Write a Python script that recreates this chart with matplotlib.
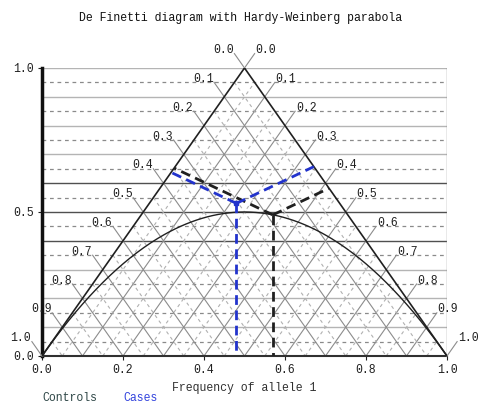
import numpy as np
import matplotlib
matplotlib.use("Agg")
import matplotlib.pyplot as plt

# ---- data ----
groups = ["Controls", "Cases"]
allele1_freq = [0.57, 0.48]      # frequency of allele 1
het_freq = [0.49, 0.53]          # heterozygote frequency
group_colors = ["#202020", "#2233cc"]
label_colors = ["#304848", "#3344dd"]
show_marker = [False, True]

x_ticks = [0.0, 0.2, 0.4, 0.6, 0.8, 1.0]
x_tick_labels = ["0.0", "0.2", "0.4", "0.6", "0.8", "1.0"]
y_ticks = [0.0, 0.5, 1.0]
y_tick_labels = ["0.0", "0.5", "1.0"]
side_labels = ["0.0", "0.1", "0.2", "0.3", "0.4", "0.5", "0.6", "0.7", "0.8", "0.9", "1.0"]

FONT = "Liberation Mono"
FS = 8.3

fig = plt.figure(figsize=(4.81, 4.03), dpi=100)
ax = fig.add_axes([42 / 481, 47 / 403, 405 / 481, 288 / 403])
ax.set_xlim(0, 1)
ax.set_ylim(0, 1)

# horizontal grid lines
for k in range(1, 20):
    yv = k * 0.05
    if k % 2 == 0:
        col = "#505050" if k in (8, 10, 12) else "#b4b4b4"
        ax.plot([0, 1], [yv, yv], color=col, lw=1.0, zorder=1)
    else:
        ax.plot([0, 1], [yv, yv], color="#8a8a8a", lw=0.9, ls=(0, (3, 3)), zorder=1)
ax.plot([0, 1], [1, 1], color="#b4b4b4", lw=1.0, zorder=1)
ax.plot([1, 1], [0, 1], color="#909090", lw=1.0, zorder=1)

# internal triangle grid
for k in range(1, 20):
    c = k * 0.05
    solid = (k % 2 == 0)
    kw = dict(color="#8c8c8c", lw=0.8, zorder=2) if solid else dict(color="#b0b0b0", lw=0.8, ls=(0, (3, 3)), zorder=2)
    # parallel to right side: x + 0.5y = c
    ax.plot([c / 2, c], [c, 0], **kw)
    # parallel to left side: x - 0.5y = c
    ax.plot([c, (1 + c) / 2], [0, 1 - c], **kw)

# triangle
ax.plot([0, 0.5, 1], [0, 1, 0], color="#202020", lw=1.2, zorder=4)

# Hardy-Weinberg parabola
p = np.linspace(0, 1, 300)
ax.plot(p, 2 * p * (1 - p), color="#202020", lw=1.0, zorder=4)

# side labels with leader lines
L = 0.05
for i, lab in enumerate(side_labels):
    t = i / 10
    # left side
    sx, sy = 0.5 - 0.5 * t, 1 - t
    ex, ey = sx - 0.5 * L, sy + L
    ax.plot([sx, ex], [sy, ey], color="#8c8c8c", lw=0.8, clip_on=False, zorder=3)
    ax.annotate(lab, (ex, ey), xytext=(-0.5, 2.5), textcoords="offset points", ha="right", va="center",
                fontsize=FS, family=FONT, color="#202020", annotation_clip=False)
    # right side
    sx, sy = 0.5 + 0.5 * t, 1 - t
    ex, ey = sx + 0.5 * L, sy + L
    ax.plot([sx, ex], [sy, ey], color="#8c8c8c", lw=0.8, clip_on=False, zorder=3)
    ax.annotate(lab, (ex, ey), xytext=(0.5, 2.5), textcoords="offset points", ha="left", va="center",
                fontsize=FS, family=FONT, color="#202020", annotation_clip=False)

# points with projection lines (perpendiculars in equilateral geometry)
for x, y, col, mk in zip(allele1_freq, het_freq, group_colors, show_marker):
    sL = 0.5 * x + 0.75 * y
    sR = 0.5 * (1 - x) + 0.75 * y
    dash = (0, (3.5, 2))
    ax.plot([x, 0.5 * sL], [y, sL], color=col, lw=2.0, ls=dash, zorder=5)
    ax.plot([x, 1 - 0.5 * sR], [y, sR], color=col, lw=2.0, ls=dash, zorder=5)
    ax.plot([x, x], [y, 0], color=col, lw=2.0, ls=dash, zorder=5)
    if mk:
        ax.plot([x], [y], marker="s", ms=3.5, color=col, zorder=6)

# axes styling
for s in ["top", "right"]:
    ax.spines[s].set_visible(False)
ax.spines["left"].set_linewidth(2.5)
ax.spines["left"].set_color("#101010")
ax.spines["bottom"].set_linewidth(1.5)
ax.spines["bottom"].set_color("#303030")
ax.set_xticks(x_ticks)
ax.set_xticklabels(x_tick_labels, family=FONT, fontsize=FS)
ax.set_yticks(y_ticks)
ax.set_yticklabels(y_tick_labels, family=FONT, fontsize=FS)
ax.tick_params(axis="both", length=3, width=0.8, pad=3, colors="#202020")
ax.set_xlabel("Frequency of allele 1", family=FONT, fontsize=FS, labelpad=4, color="#303030")

fig.text(0.5, 1 - 18 / 403, "De Finetti diagram with Hardy-Weinberg parabola",
         ha="center", va="center", family=FONT, fontsize=FS, color="#101010")
fig.text(42 / 481, 1 - 398 / 403, groups[0], ha="left", va="center", family=FONT, fontsize=FS, color=label_colors[0])
fig.text(123 / 481, 1 - 398 / 403, groups[1], ha="left", va="center", family=FONT, fontsize=FS, color=label_colors[1])

fig.savefig("out.png", dpi=100)
